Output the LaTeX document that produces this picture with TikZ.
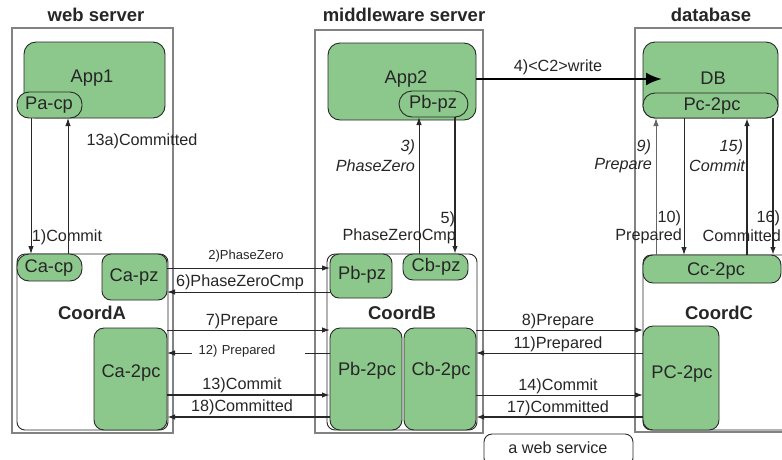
\documentclass[tikz,border=0pt]{standalone}
\usepackage{fontspec}
\setmainfont{Liberation Sans}
\usetikzlibrary{arrows.meta}
\definecolor{gfill}{RGB}{140,200,140}
\definecolor{gline}{RGB}{40,40,40}
\definecolor{obox}{RGB}{130,130,130}
\newcommand\mkbox[6]{\node[#6, minimum width={#4-#2}, minimum height={#5-#3}] (#1) at ({(#2+#4)/2},{(#3+#5)/2}) {};}
\begin{document}
\begin{tikzpicture}[x=1pt,y=-1pt,
 every node/.style={inner sep=0pt, outer sep=0pt, text=black!85},
 grn/.style={draw=gline, fill=gfill, line width=0.9pt, rounded corners=#1},
 grn/.default=9pt,
 srv/.style={draw=obox, line width=1.4pt},
 crd/.style={draw=gline, line width=0.9pt, rounded corners=8pt},
 nt/.style={font=\fontsize{18.3}{21}\selectfont},
 ttl/.style={font=\bfseries\fontsize{18.5}{21}\selectfont},
 lbl/.style={font=\fontsize{16.2}{19}\selectfont},
 ilbl/.style={font=\itshape\fontsize{16.2}{19}\selectfont},
 sml/.style={font=\fontsize{13}{15}\selectfont},
 con/.style={draw=gline, line width=1pt, -{Latex[length=8pt,width=5.5pt]}},
 conb/.style={con, line width=1.7pt},
]
\useasboundingbox (0,0) rectangle (782,459);
\clip (0,0) rectangle (782,459);

% servers
\mkbox{ws}{12}{28}{173}{433}{srv}
\mkbox{ms}{315}{30}{483}{433}{srv}
\mkbox{dbs}{635}{28}{800}{432}{srv}
\node[ttl] (tws) at (96,15) {web server};
\node[ttl] (tms) at (404,15) {middleware server};
\node[ttl] (tdbs) at (711,15) {database};

% coordinators
\mkbox{CoordA}{17}{254}{168}{430}{crd}
\mkbox{CoordB}{327}{254}{477}{430}{crd}
\mkbox{CoordC}{643}{255}{800}{430}{crd}
\node[ttl] (tCoordA) at (92,313) {CoordA};
\node[ttl] (tCoordB) at (402,313) {CoordB};
\node[ttl] (tCoordC) at (719,313) {CoordC};

% web server parts
\mkbox{App1}{24}{42}{165}{118}{grn=12pt}
\mkbox{Pacp}{17}{92}{82}{118}{grn=12pt}
\mkbox{Cacp}{17}{254}{82}{281}{grn=12pt}
\mkbox{Capz}{102}{254}{167}{300}{grn=9pt}
\mkbox{Ca2pc}{94}{328}{167}{430}{grn=10pt}
\node[nt] (tApp1) at (92,78) {App1};
\node[nt] (tPacp) at (49,105) {Pa-cp};
\node[nt] (tCacp) at (49,268) {Ca-cp};
\node[nt] (tCapz) at (134,277) {Ca-pz};
\node[nt] (tCa2pc) at (131,373) {Ca-2pc};

% middleware parts
\mkbox{App2}{328}{43}{476}{120}{grn=12pt}
\mkbox{Pbpzt}{399}{91}{468}{117}{grn=13pt}
\mkbox{Pbpzl}{330}{254}{392}{298}{grn=9pt}
\mkbox{Cbpz}{403}{254}{468}{280}{grn=10pt}
\mkbox{Pb2pc}{330}{328}{402}{430}{grn=10pt}
\mkbox{Cb2pc}{404}{328}{476}{430}{grn=10pt}
\node[nt] (tApp2) at (406,79) {App2};
\node[nt] (tPbpzt) at (433,104) {Pb-pz};
\node[nt] (tPbpzl) at (362,275) {Pb-pz};
\node[nt] (tCbpz) at (436,267) {Cb-pz};
\node[nt] (tPb2pc) at (367,371) {Pb-2pc};
\node[nt] (tCb2pc) at (441,371) {Cb-2pc};

% database parts
\mkbox{DB}{643}{42}{778}{118}{grn=12pt}
\mkbox{Pc2pc}{643}{93}{778}{118}{grn=12pt}
\mkbox{Cc2pc}{643}{255}{781}{283}{grn=10pt}
\mkbox{PC2pc}{643}{326}{719}{430}{grn=10pt}
\node[nt] (tDB) at (713,78) {DB};
\node[nt] (tPc2pc) at (712,106) {Pc-2pc};
\node[nt] (tCc2pc) at (716,271) {Cc-2pc};
\node[nt] (tPC2pc) at (682,374) {PC-2pc};

% web service box
\mkbox{wsv}{484}{434}{633}{466}{crd}
\node[lbl] (twsv) at (558,448) {a web service};

% connectors web server internal
\draw[con] (Pacp.south -| 31,0) -- (Cacp.north -| 31,0);
\draw[con] (Cacp.north -| 68,0) -- (Pacp.south -| 68,0);
\node[lbl] (l1) at (67,237) {1)Commit};
\node[lbl] (l13a) at (142,141) {13a)Committed};

% web <-> middleware
\draw[con] (Capz.east |- 0,268) -- (Pbpzl.west |- 0,268);
\draw[con] (Pbpzl.west |- 0,292) -- (Capz.east |- 0,292);
\draw[con] (Ca2pc.east |- 0,330) -- (Pb2pc.west |- 0,330);
\draw[con] (Pb2pc.west |- 0,353) -- (Ca2pc.east |- 0,353);
\draw[conb] (Ca2pc.east |- 0,395) -- (Pb2pc.west |- 0,395);
\draw[conb] (Pb2pc.west |- 0,417) -- (Ca2pc.east |- 0,417);
\node[sml, fill=white, minimum width=93pt, minimum height=21pt] (l2) at (246,256) {2)PhaseZero};
\node[lbl] (l6) at (240,282) {6)PhaseZeroCmp};
\node[lbl] (l7) at (242,321) {7)Prepare};
\fill[white] (192,344) rectangle (305,362);
\node[sml] (l12) at (237,351) {12)\,\,Prepared};
\node[lbl] (l13) at (242,385) {13)Commit};
\node[lbl] (l18) at (242,407) {18)Committed};

% middleware internal
\draw[con] (Cbpz.north -| 419,0) -- (Pbpzt.south -| 419,0);
\draw[conb] (Pbpzt.south -| 455,0) -- (Cbpz.north -| 455,0);
\node[ilbl, anchor=east] (l3a) at (415,147) {3)};
\node[ilbl, anchor=east] (l3b) at (415,166) {PhaseZero};
\node[lbl, anchor=east] (l5a) at (455,219) {5)};
\node[lbl, anchor=east] (l5b) at (456,236) {PhaseZeroCmp};

% middleware -> database write
\coordinate (dbin) at (662,79);
\draw[draw=black, line width=2.6pt, -{Latex[length=16pt,width=13pt]}] (App2.east |- dbin) -- (dbin);
\node[lbl] (l4) at (558,67) {4)<C2>write};

% middleware <-> database coordinator
\draw[con] (Cb2pc.east |- 0,330) -- (PC2pc.west |- 0,330);
\draw[con] (PC2pc.west |- 0,353) -- (Cb2pc.east |- 0,353);
\draw[con] (Cb2pc.east |- 0,395) -- (PC2pc.west |- 0,395);
\draw[conb] (PC2pc.west |- 0,417) -- (Cb2pc.east |- 0,417);
\node[lbl] (l8) at (558,321) {8)Prepare};
\node[lbl] (l11) at (558,344) {11)Prepared};
\node[lbl] (l14) at (558,386) {14)Commit};
\node[lbl] (l17) at (558,408) {17)Committed};

% database internal
\draw[con, draw=black!60] (Cc2pc.north -| 656,0) -- (Pc2pc.south -| 656,0);
\draw[con] (Pc2pc.south -| 684,0) -- (Cc2pc.north -| 684,0);
\draw[conb] (Cc2pc.north -| 747,0) -- (Pc2pc.south -| 747,0);
\draw[conb] (Pc2pc.south -| 773,0) -- (Cc2pc.north -| 773,0);
\node[ilbl, anchor=east] (l9a) at (651,147) {9)};
\node[ilbl, anchor=east] (l9b) at (652,166) {Prepare};
\node[ilbl, anchor=east] (l15a) at (743,147) {15)};
\node[ilbl, anchor=east] (l15b) at (745,166) {Commit};
\node[lbl, anchor=east] (l10a) at (681,218) {10)};
\node[lbl, anchor=east] (l10b) at (682,236) {Prepared};
\node[lbl, anchor=east] (l16a) at (780,218) {16)};
\node[lbl, anchor=east] (l16b) at (781,236) {Committed};
\end{tikzpicture}
\end{document}
